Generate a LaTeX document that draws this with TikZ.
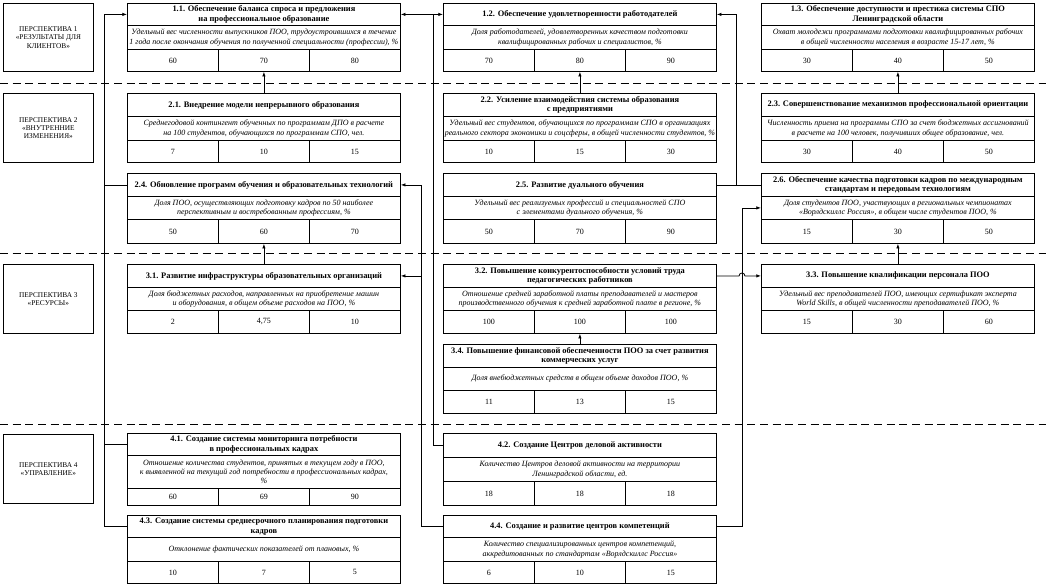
\documentclass[tikz,border=0pt]{standalone}
\usepackage{fontspec}
\setmainfont{Liberation Serif}
\usetikzlibrary{arrows.meta}

\tikzset{
  cell/.style={draw, line width=.6pt, inner sep=0pt, anchor=north west, align=center},
  ttl/.style={cell, minimum width=204.75pt, font=\fontsize{6.3}{7.2}\selectfont\bfseries},
  dsc/.style={cell, minimum width=204.75pt, font=\fontsize{6}{7}\selectfont\itshape},
  val/.style={cell, minimum width=68.25pt, font=\fontsize{6}{7}\selectfont},
  persp/.style={cell, minimum width=67.5pt, font=\fontsize{5.5}{6.2}\selectfont},
  sep/.style={dash pattern=on 6pt off 3.5pt, line width=.6pt},
  link/.style={line width=.6pt},
  arr/.style={link, -{Latex[length=3.5pt,width=2.6pt]}}
}

% name, left, top, title bottom, text bottom, bottom, title, text, values
\newcommand{\kpibox}[9]{%
  \node[ttl, minimum height={(#4-#3)*0.75pt}] (#1) at (#2,#3) {#7};
  \node[dsc, minimum height={(#5-#4)*0.75pt}] (#1d) at (#2,#4) {#8};
  \foreach \v [count=\i] in {#9}
    \node[val, minimum height={(#6-#5)*0.75pt}] (#1v\i) at ({#2+(\i-1)*91},#5) {\v};
}

\begin{document}
\begin{tikzpicture}[x=0.75pt,y=-0.75pt]
\useasboundingbox (0,0) rectangle (1046,586);

% perspectives
\foreach \n/\y/\h/\t in {
  1/3/68/{ПЕРСПЕКТИВА 1\\«РЕЗУЛЬТАТЫ ДЛЯ\\КЛИЕНТОВ»},
  2/93/69/{ПЕРСПЕКТИВА 2\\«ВНУТРЕННИЕ\\ИЗМЕНЕНИЯ»},
  3/264/69/{ПЕРСПЕКТИВА 3\\«РЕСУРСЫ»},
  4/434/69/{ПЕРСПЕКТИВА 4\\«УПРАВЛЕНИЕ»}}
    \node[persp, minimum height={\h*0.75pt}] (p\n) at (3,\y) {\t};
\foreach \y in {83,253,424}
  \draw[sep] (0,\y) -- (1046,\y);

% row 1
\kpibox{k11}{127}{3}{25}{49}{71}{1.1. Обеспечение баланса спроса и предложения\\на профессиональное образование}{Удельный вес численности выпускников ПОО, трудоустроившихся в течение\\1 года после окончания обучения по полученной специальности (профессии), \%}{60,70,80}
\kpibox{k12}{443}{3}{25}{49}{71}{1.2. Обеспечение удовлетворенности работодателей}{Доля работодателей, удовлетворенных качеством подготовки\\квалифицированных рабочих и специалистов, \%}{70,80,90}
\kpibox{k13}{761}{3}{25}{49}{71}{1.3. Обеспечение доступности и престижа системы СПО\\Ленинградской области}{Охват молодежи программами подготовки квалифицированных рабочих\\в общей численности населения в возрасте 15-17 лет, \%}{30,40,50}
% row 2
\kpibox{k21}{127}{93}{116}{140}{162}{2.1. Внедрение модели непрерывного образования}{Среднегодовой контингент обученных по программам ДПО в расчете\\на 100 студентов, обучающихся по программам СПО, чел.}{7,10,15}
\kpibox{k22}{443}{93}{116}{140}{162}{2.2. Усиление взаимодействия системы образования\\с предприятиями}{Удельный вес студентов, обучающихся по программам СПО в организациях\\реального сектора экономики и соцсферы, в общей численности студентов, \%}{10,15,30}
\kpibox{k23}{761}{93}{116}{140}{162}{2.3. Совершенствование механизмов профессиональной ориентации}{Численность приема на программы СПО за счет бюджетных ассигнований\\в расчете на 100 человек, получивших общее образование, чел.}{30,40,50}
\kpibox{k24}{127}{173}{196}{219}{243}{2.4. Обновление программ обучения и образовательных технологий}{Доля ПОО, осуществляющих подготовку кадров по 50 наиболее\\перспективным и востребованным профессиям, \%}{50,60,70}
\kpibox{k25}{443}{173}{196}{219}{243}{2.5. Развитие дуального обучения}{Удельный вес реализуемых профессий и специальностей СПО\\с элементами дуального обучения, \%}{50,70,90}
\kpibox{k26}{761}{173}{196}{219}{243}{2.6. Обеспечение качества подготовки кадров по международным\\стандартам и передовым технологиям}{Доля студентов ПОО, участвующих в региональных чемпионатах\\«Ворлдскиллс Россия», в общем числе студентов ПОО, \%}{15,30,50}
% row 3
\kpibox{k31}{127}{264}{287}{310}{333}{3.1. Развитие инфраструктуры образовательных организаций}{Доля бюджетных расходов, направленных на приобретение машин\\и оборудования, в общем объеме расходов на ПОО, \%}{2,{4,75},10}
\kpibox{k32}{443}{264}{287}{310}{333}{3.2. Повышение конкурентоспособности условий труда\\педагогических работников}{Отношение средней заработной платы преподавателей и мастеров\\производственного обучения к средней заработной плате в регионе, \%}{100,100,100}
\kpibox{k33}{761}{264}{287}{310}{333}{3.3. Повышение квалификации персонала ПОО}{Удельный вес преподавателей ПОО, имеющих сертификат эксперта\\World Skills, в общей численности преподавателей ПОО, \%}{15,30,60}
\kpibox{k34}{443}{344}{367}{390}{413}{3.4. Повышение финансовой обеспеченности ПОО за счет развития\\коммерческих услуг}{Доля внебюджетных средств в общем объеме доходов ПОО, \%}{11,13,15}
% row 4
\kpibox{k41}{127}{433}{455}{488}{505}{4.1. Создание системы мониторинга потребности\\в профессиональных кадрах}{Отношение количества студентов, принятых в текущем году в ПОО,\\к выявленной на текущий год потребности в профессиональных кадрах,\\\%}{60,69,90}
\kpibox{k42}{443}{433}{457}{481}{505}{4.2. Создание Центров деловой активности}{Количество Центров деловой активности на территории\\Ленинградской области, ед.}{18,18,18}
\kpibox{k43}{127}{515}{537}{561}{583}{4.3. Создание системы среднесрочного планирования подготовки\\кадров}{Отклонение фактических показателей от плановых, \%}{10,7,5}
\kpibox{k44}{443}{515}{537}{561}{583}{4.4. Создание и развитие центров компетенций}{Количество специализированных центров компетенций,\\аккредитованных по стандартам «Ворлдскиллс Россия»}{6,10,15}

% trunks
\coordinate (x1) at (104,0);
\coordinate (x2) at (433,0);
\coordinate (x3) at (421,0);
\coordinate (x4) at (736,0);
\coordinate (x5) at (742,0);

\draw[arr] (k43.west) -- (k43.west -| x1) |- (k11.west);
\draw[link] (k41.west) -- (k41.west -| x1);
\draw[link] (k24.west) -- (k24.west -| x1);
\draw[arr] (k42.west) -- (k42.west -| x2) |- (k12.west);
\draw[arr] (k11.east -| x2) -- (k11.east);
\draw[arr] (k44.west) -- (k44.west -| x3) |- (k24.east);
\draw[arr] (k31.east -| x3) -- (k31.east);
\draw[arr] (k25.east) -- (k25.east -| x4) |- (k12.east);
\draw[link] (k25.east) -- (k26.west);
\draw[arr] (k44.east) -- (k44.east -| x5) |- (k26d.west);
\coordinate (hop) at (k32.east -| x5);
\draw[arr] (k32.east) -- ([xshift=-2.2pt]hop) arc[start angle=180, end angle=0, radius=2.2pt] -- (k33.west);

\foreach \a/\b in {k21/k11, k22/k12, k23/k13, k31/k24, k33/k26, k34/k32}
  \draw[arr] (\a.north) -- (\b v2.south);
\end{tikzpicture}
\end{document}
